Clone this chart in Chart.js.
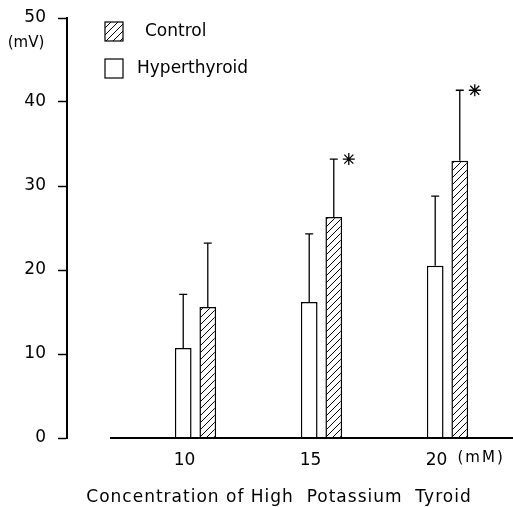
<!DOCTYPE html>
<html>
<head>
<meta charset="utf-8">
<script src="https://cdn.jsdelivr.net/npm/chart.js@4.4.1/dist/chart.umd.min.js"></script>
<style>
  html, body { margin: 0; padding: 0; background: #fff; }
</style>
</head>
<body>
<canvas id="chart" width="513" height="507"></canvas>
<script>
// Membrane depolarization (mV) under high potassium Tyrode, mean + SD
const CONCENTRATIONS = [10, 15, 20];
const HYPER_MEAN = [10.7, 16.2, 20.5];
const HYPER_SD = [6.4, 8.1, 8.3];
const CONTROL_MEAN = [15.6, 26.3, 33.0];
const CONTROL_SD = [7.6, 6.9, 8.4];
const CONTROL_SIGNIFICANT = [false, true, true];
const Y_TICKS = [0, 10, 20, 30, 40, 50];
const X_TITLE = 'Concentration of High  Potassium  Tyroid';

const FONT = 'DejaVu Sans';
Chart.defaults.font.family = FONT;
Chart.defaults.color = '#000';

// diagonal hatch for the control bars
function makeHatch() {
  const s = 7;
  const c = document.createElement('canvas');
  c.width = s; c.height = s;
  const g = c.getContext('2d');
  g.fillStyle = '#fff';
  g.fillRect(0, 0, s, s);
  g.strokeStyle = '#000';
  g.lineWidth = 1;
  g.beginPath();
  g.moveTo(0, s); g.lineTo(s, 0);
  g.moveTo(-1, 1); g.lineTo(1, -1);
  g.moveTo(s - 1, s + 1); g.lineTo(s + 1, s - 1);
  g.stroke();
  return document.getElementById('chart').getContext('2d').createPattern(c, 'repeat');
}
const hatch = makeHatch();

const datasets = [
  {
    label: 'Hyperthyroid',
    data: CONCENTRATIONS.map((x, i) => ({ x, y: HYPER_MEAN[i] })),
    sd: HYPER_SD,
    stars: CONCENTRATIONS.map(() => false),
    backgroundColor: '#fff',
    borderColor: '#000',
    borderWidth: 1.5,
  },
  {
    label: 'Control',
    data: CONCENTRATIONS.map((x, i) => ({ x, y: CONTROL_MEAN[i] })),
    sd: CONTROL_SD,
    stars: CONTROL_SIGNIFICANT,
    backgroundColor: hatch,
    borderColor: '#000',
    borderWidth: 1.5,
  },
];

// error bars, significance stars, baseline, unit labels, axis title and legend
const decorations = {
  id: 'decorations',
  afterDatasetsDraw(chart) {
    const ctx = chart.ctx;
    const y = chart.scales.y;
    const x = chart.scales.x;
    const area = chart.chartArea;
    ctx.save();
    ctx.strokeStyle = '#000';
    ctx.fillStyle = '#000';

    // x baseline (starts away from the y axis, as in the print)
    ctx.lineWidth = 2;
    ctx.beginPath();
    ctx.moveTo(area.left + 43, y.getPixelForValue(0));
    ctx.lineTo(area.right, y.getPixelForValue(0));
    ctx.stroke();

    chart.data.datasets.forEach((ds, di) => {
      const meta = chart.getDatasetMeta(di);
      meta.data.forEach((bar, i) => {
        const top = y.getPixelForValue(ds.data[i].y + ds.sd[i]);
        ctx.lineWidth = 1.3;
        ctx.beginPath();
        ctx.moveTo(bar.x, bar.y);
        ctx.lineTo(bar.x, top);
        ctx.moveTo(bar.x - 4, top);
        ctx.lineTo(bar.x + 4, top);
        ctx.stroke();
        if (ds.stars[i]) {
          const cx = bar.x + 15, r = 6;
          ctx.beginPath();
          ctx.moveTo(cx - r, top); ctx.lineTo(cx + r, top);
          ctx.moveTo(cx, top - r); ctx.lineTo(cx, top + r);
          ctx.moveTo(cx - 4.5, top - 4.5); ctx.lineTo(cx + 4.5, top + 4.5);
          ctx.moveTo(cx - 4.5, top + 4.5); ctx.lineTo(cx + 4.5, top - 4.5);
          ctx.stroke();
        }
      });
    });

    ctx.textBaseline = 'middle';

    // unit labels
    ctx.font = '15px ' + FONT;
    ctx.textAlign = 'center';
    ctx.fillText('(mV)', 26, 43);
    ctx.letterSpacing = '2px';
    ctx.font = '15px ' + FONT;
    ctx.textAlign = 'left';
    ctx.fillText('(mM)', x.getPixelForValue(20) + 10, 458);

    // x axis title, letter-spaced like the print
    ctx.letterSpacing = '1px';
    ctx.font = '17px ' + FONT;
    ctx.textAlign = 'center';
    ctx.fillText(X_TITLE, 279, 498);
    ctx.letterSpacing = '0px';

    // legend, control first
    const items = chart.data.datasets.slice().reverse();
    items.forEach((ds, k) => {
      const bx = 105, by = 22 + k * 37;
      ctx.fillStyle = ds.backgroundColor;
      ctx.fillRect(bx, by, 18, 19);
      ctx.lineWidth = 1.2;
      ctx.strokeRect(bx, by, 18, 19);
      ctx.fillStyle = '#000';
      ctx.font = '17px ' + FONT;
      ctx.textAlign = 'left';
      ctx.fillText(ds.label, k === 0 ? 145 : 137, by + 10);
    });
    ctx.restore();
  },
};

new Chart(document.getElementById('chart'), {
  type: 'bar',
  data: { datasets },
  plugins: [decorations],
  options: {
    responsive: false,
    animation: false,
    categoryPercentage: 0.39,
    barPercentage: 0.68,
    layout: { padding: { top: 18, right: 0, left: 0, bottom: 0 } },
    plugins: {
      legend: { display: false },
      tooltip: { enabled: false },
    },
    scales: {
      x: {
        type: 'linear',
        offset: false,
        min: 4.9,
        max: 22.6,
        afterBuildTicks: s => { s.ticks = CONCENTRATIONS.map(v => ({ value: v })); },
        afterFit: s => { s.height = 69; },
        grid: { display: false, drawTicks: false },
        border: { display: false },
        ticks: {
          color: '#000',
          font: { size: 17 },
          padding: 12,
          labelOffset: -11,
          callback: v => String(v),
        },
        title: { display: false, text: X_TITLE },
      },
      y: {
        min: 0,
        max: 50,
        afterBuildTicks: s => { s.ticks = Y_TICKS.map(v => ({ value: v })); },
        afterFit: s => { s.width = 67; s.paddingTop = 0; s.paddingBottom = 0; },
        grid: {
          drawOnChartArea: false,
          drawTicks: true,
          tickLength: 9,
          tickColor: '#000',
          tickWidth: 1.5,
        },
        border: { display: true, color: '#000', width: 2 },
        ticks: { color: '#000', font: { size: 17 }, padding: 12 },
      },
    },
  },
});
</script>
</body>
</html>
